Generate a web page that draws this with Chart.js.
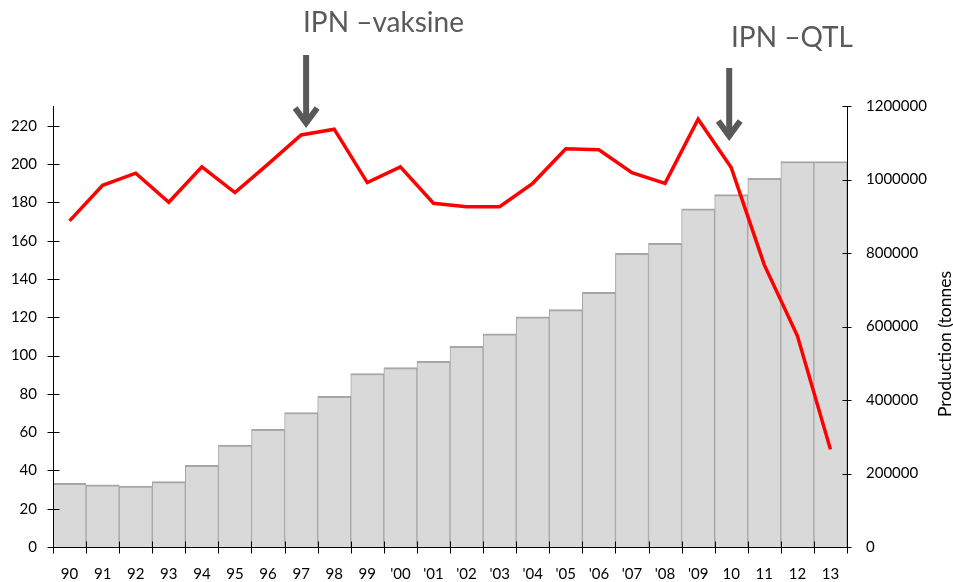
<!DOCTYPE html>
<html>
<head>
<meta charset="utf-8">
<script src="https://cdn.jsdelivr.net/npm/chart.js@4/dist/chart.umd.min.js"></script>
<style>
  html, body { margin: 0; padding: 0; background: #ffffff; }
  #wrap { width: 953px; height: 582px; position: relative; }
</style>
</head>
<body>
<div id="wrap"><canvas id="c"></canvas></div>
<script>
const categories = ["90","91","92","93","94","95","96","97","98","99","'00","'01","'02","'03","'04","'05","'06","'07","'08","'09","10","11","12","13"];
const productionTonnes = [173000,169000,166000,178000,222000,277000,320000,366000,410000,472000,488000,505000,546000,580000,626000,646000,693000,799000,826000,920000,959000,1003000,1049000,1049000];
const redLineValues = [170.4,189,195.3,180.1,198.6,185.2,200,215.3,218.3,190.4,198.6,179.6,177.8,177.8,190,208,207.5,195.6,190,223.5,198.2,147.4,110.3,51];
const leftTicks = [0,20,40,60,80,100,120,140,160,180,200,220];
const rightTicks = [0,200000,400000,600000,800000,1000000,1200000];
const annotations = [
  { text: "IPN \u2013vaksine", category: 7 },
  { text: "IPN \u2013QTL", category: 20 }
];
const rightAxisTitle = "Production (tonnes";

const axisPlugin = {
  id: 'axisPlugin',
  afterDatasetsDraw(chart) {
    const ctx = chart.ctx;
    const ca = chart.chartArea;
    const x = chart.scales.x, y = chart.scales.y, y1 = chart.scales.y1;
    ctx.save();
    ctx.strokeStyle = '#000';
    ctx.lineWidth = 1;
    ctx.beginPath();
    const L = Math.round(ca.left) + 0.5, R = Math.round(ca.right) + 0.5, B = Math.round(ca.bottom) + 0.5;
    ctx.moveTo(L, ca.top); ctx.lineTo(L, B);
    ctx.moveTo(R, ca.top); ctx.lineTo(R, B);
    ctx.moveTo(L, B); ctx.lineTo(R, B);
    leftTicks.forEach(v => { const p = Math.round(y.getPixelForValue(v)) + 0.5; ctx.moveTo(L - 6, p); ctx.lineTo(L + 6, p); });
    rightTicks.forEach(v => { const p = Math.round(y1.getPixelForValue(v)) + 0.5; ctx.moveTo(R - 5, p); ctx.lineTo(R + 4, p); });
    const n = categories.length;
    for (let i = 0; i <= n; i++) {
      let px;
      if (i === 0) px = ca.left; else if (i === n) px = ca.right;
      else px = (x.getPixelForValue(i - 1) + x.getPixelForValue(i)) / 2;
      px = Math.round(px) + 0.5;
      ctx.moveTo(px, B - 6); ctx.lineTo(px, B + 6);
    }
    ctx.stroke();

    // annotations
    ctx.fillStyle = '#595959';
    ctx.strokeStyle = '#595959';
    ctx.font = '28px Lato';
    ctx.textBaseline = 'alphabetic';
    const a1x = x.getPixelForValue(annotations[0].category) + 5;
    const a2x = x.getPixelForValue(annotations[1].category) - 2;
    ctx.fillText(annotations[0].text, 303, 32);
    ctx.fillText(annotations[1].text, 731, 47);
    function arrow(ax, top, tip) {
      ctx.lineWidth = 6;
      ctx.lineCap = 'butt';
      ctx.beginPath();
      ctx.moveTo(ax, top); ctx.lineTo(ax, tip - 3);
      ctx.stroke();
      ctx.lineJoin = 'miter';
      ctx.beginPath();
      ctx.moveTo(ax - 11, tip - 19); ctx.lineTo(ax, tip - 4); ctx.lineTo(ax + 11, tip - 19);
      ctx.stroke();
    }
    arrow(a1x, 55, 127);
    arrow(a2x, 68, 140);

    // right title
    ctx.fillStyle = '#000';
    ctx.font = '17.5px Lato';
    ctx.translate(945, 344);
    ctx.rotate(-Math.PI / 2);
    ctx.textAlign = 'center';
    ctx.textBaseline = 'middle';
    ctx.fillText(rightAxisTitle, 0, 0);
    ctx.restore();
  }
};

new Chart(document.getElementById('c'), {
  data: {
    labels: categories,
    datasets: [
      {
        type: 'line',
        data: redLineValues,
        yAxisID: 'y',
        borderColor: '#ff0000',
        borderWidth: 3.5,
        pointRadius: 0,
        tension: 0,
        order: 0
      },
      {
        type: 'bar',
        data: productionTonnes,
        yAxisID: 'y1',
        backgroundColor: '#d9d9d9',
        borderColor: '#a6a6a6',
        borderWidth: { top: 2, left: 1, right: 1, bottom: 0 },
        borderSkipped: false,
        barPercentage: 1,
        categoryPercentage: 1,
        order: 1
      }
    ]
  },
  options: {
    responsive: true,
    maintainAspectRatio: false,
    animation: false,
    layout: { padding: { top: 106, left: 0, right: 0, bottom: 0 } },
    plugins: { legend: { display: false }, tooltip: { enabled: false } },
    scales: {
      x: {
        offset: true,
        grid: { display: false, drawTicks: false },
        border: { display: false },
        ticks: { color: '#000', font: { family: 'Lato', size: 15 }, padding: 18, maxRotation: 0, autoSkip: false },
        afterFit(s) { s.height = 35; }
      },
      y: {
        position: 'left',
        min: 0,
        max: 230.4,
        grid: { display: false, drawTicks: false },
        border: { display: false },
        ticks: { color: '#000', font: { family: 'Lato', size: 15 }, padding: 16 },
        afterBuildTicks(s) { s.ticks = leftTicks.map(v => ({ value: v })); },
        afterFit(s) { s.width = 53; }
      },
      y1: {
        position: 'right',
        min: 0,
        max: 1200000,
        grid: { display: false, drawTicks: false },
        border: { display: false },
        ticks: { color: '#000', font: { family: 'Lato', size: 15 }, padding: 19, callback: v => String(v) },
        afterBuildTicks(s) { s.ticks = rightTicks.map(v => ({ value: v })); },
        afterFit(s) { s.width = 106; }
      }
    }
  },
  plugins: [axisPlugin]
});
</script>
</body>
</html>
